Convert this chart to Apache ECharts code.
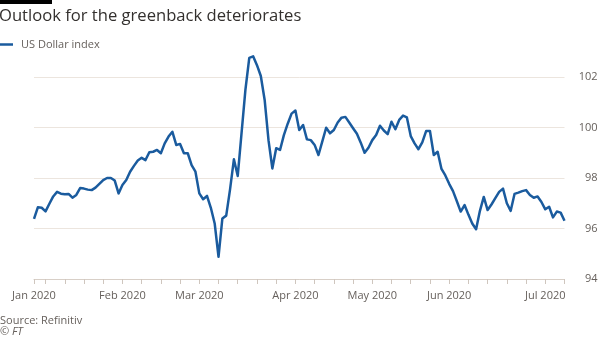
<!DOCTYPE html>
<html>
<head>
<meta charset="utf-8">
<script src="https://cdn.jsdelivr.net/npm/echarts@6/dist/echarts.min.js"></script>
<style>
  html, body { margin: 0; padding: 0; background: #ffffff; }
  #chart { width: 602px; height: 339px; }
</style>
</head>
<body>
<div id="chart"></div>
<script>
// US Dollar index, daily closes on weekdays, 1 Jan 2020 to 13 Jul 2020
const startDate = '2020-01-01';
const endDate = '2020-07-13';

const dollarIndex = [
  96.38, 96.84, 96.82, 96.68, 96.98, 97.27, 97.45, 97.38, 97.36, 97.37,
  97.22, 97.33, 97.60, 97.58, 97.54, 97.52, 97.62, 97.77, 97.92, 98.00,
  98.00, 97.90, 97.39, 97.72, 97.92, 98.25, 98.48, 98.69, 98.80, 98.71,
  99.02, 99.04, 99.11, 98.98, 99.37, 99.64, 99.83, 99.31, 99.35, 98.98,
  98.98, 98.51, 98.25, 97.39, 97.16, 97.29, 96.82, 96.20, 94.88, 96.40,
  96.51, 97.55, 98.74, 98.08, 99.80, 101.50, 102.76, 102.82, 102.47, 102.04,
  101.09, 99.50, 98.38, 99.18, 99.11, 99.70, 100.15, 100.55, 100.67, 99.90,
  100.10, 99.53, 99.50, 99.31, 98.91, 99.45, 99.99, 99.77, 99.90, 100.20,
  100.39, 100.42, 100.20, 99.97, 99.75, 99.40, 99.00, 99.20, 99.50, 99.70,
  100.07, 99.88, 99.74, 100.23, 99.93, 100.30, 100.47, 100.40, 99.66, 99.37,
  99.14, 99.41, 99.86, 99.86, 98.91, 99.04, 98.36, 98.10, 97.77, 97.48,
  97.08, 96.67, 96.93, 96.55, 96.20, 95.97, 96.70, 97.25, 96.73, 96.95,
  97.20, 97.45, 97.58, 97.00, 96.70, 97.37, 97.42, 97.48, 97.52, 97.33,
  97.22, 97.27, 97.05, 96.76, 96.86, 96.44, 96.67, 96.63, 96.31
];

const yTicks = [94, 96, 98, 100, 102];
const monthNames = ['Jan', 'Feb', 'Mar', 'Apr', 'May', 'Jun', 'Jul', 'Aug', 'Sep', 'Oct', 'Nov', 'Dec'];

// weekday calendar for the category axis
function weekdays(from, to) {
  const out = [];
  const d = new Date(from + 'T00:00:00Z');
  const end = new Date(to + 'T00:00:00Z');
  while (d <= end) {
    const wd = d.getUTCDay();
    if (wd !== 0 && wd !== 6) out.push(d.toISOString().slice(0, 10));
    d.setUTCDate(d.getUTCDate() + 1);
  }
  return out;
}
const days = weekdays(startDate, endDate);

function dayOfWeek(s) { return new Date(s + 'T00:00:00Z').getUTCDay(); }
// ticks on the first day and every Monday
function isTick(i) { return i === 0 || dayOfWeek(days[i]) === 1; }
// month labels on the first Monday of each month (January on the first day)
function isMonthLabel(i) {
  if (i === 0) return true;
  if (dayOfWeek(days[i]) !== 1) return false;
  const dom = parseInt(days[i].slice(8, 10), 10);
  return dom <= 7 && days[i].slice(5, 7) !== '01';
}

const chart = echarts.init(document.getElementById('chart'), null, { renderer: 'canvas' });

const textColor = '#66605c';
const gridColor = '#ece5de';
const lineColor = '#1a5b9e';
const fontFamily = '"Open Sans", "Noto Sans", sans-serif';

chart.setOption({
  animation: false,
  backgroundColor: '#ffffff',
  textStyle: { fontFamily: fontFamily },
  title: {
    text: 'Outlook for the greenback deteriorates',
    left: -1,
    top: 8,
    padding: [0, 0, 0, 0],
    textStyle: { fontFamily: fontFamily, fontSize: 16.6, fontWeight: 'normal', color: '#33302e' }
  },
  legend: {
    left: 0,
    top: 39,
    padding: 0,
    itemWidth: 13,
    itemHeight: 2.5,
    itemGap: 10,
    icon: 'rect',
    textStyle: { fontFamily: fontFamily, fontSize: 11, color: textColor, padding: [0, 0, 0, 3] },
    data: ['US Dollar index']
  },
  grid: { left: 34, right: 37.5, top: 77, bottom: 60, containLabel: false },
  xAxis: {
    type: 'category',
    data: days,
    boundaryGap: false,
    axisLine: { show: true, lineStyle: { color: '#d8cfc7', width: 1 } },
    axisTick: {
      show: true,
      length: 5,
      interval: function (i) { return isTick(i); },
      lineStyle: { color: '#cfc6be' }
    },
    axisLabel: {
      interval: function (i) { return isMonthLabel(i); },
      formatter: function (v) {
        return monthNames[parseInt(v.slice(5, 7), 10) - 1] + ' ' + v.slice(0, 4);
      },
      color: textColor,
      fontSize: 11,
      margin: 11,
      fontFamily: fontFamily
    },
    splitLine: { show: false }
  },
  yAxis: {
    type: 'value',
    position: 'right',
    min: yTicks[0],
    max: yTicks[yTicks.length - 1],
    interval: 2,
    axisLine: { show: false },
    axisTick: { show: false },
    axisLabel: {
      color: textColor,
      fontSize: 11,
      align: 'right',
      margin: 33,
      fontFamily: fontFamily
    },
    splitLine: { show: true, lineStyle: { color: gridColor, width: 1 } }
  },
  series: [{
    name: 'US Dollar index',
    type: 'line',
    data: dollarIndex,
    showSymbol: false,
    symbol: 'none',
    clip: false,
    lineStyle: { color: lineColor, width: 2.5, join: 'round' },
    itemStyle: { color: lineColor }
  }],
  graphic: [
    { type: 'rect', left: 0, top: 0, shape: { width: 52, height: 4 }, style: { fill: '#000000' } },
    { type: 'text', left: 0, top: 315, style: { text: 'Source: Refinitiv', fill: textColor, font: '11px ' + fontFamily } },
    { type: 'text', left: 0, top: 326, style: { text: '\u00a9 FT', fill: textColor, font: 'italic 11px ' + fontFamily } }
  ]
});
</script>
</body>
</html>
